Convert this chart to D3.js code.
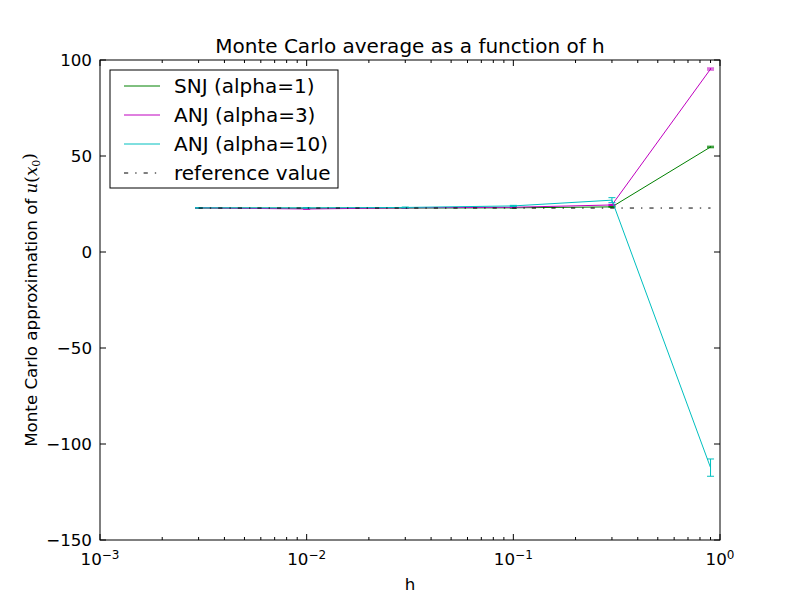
<!DOCTYPE html>
<html>
<head>
<meta charset="utf-8">
<script src="https://cdn.jsdelivr.net/npm/d3@7/dist/d3.min.js"></script>
<style>
  body { margin: 0; background: #fff; }
  svg text { font-family: "DejaVu Sans", sans-serif; }
</style>
</head>
<body>
<div id="chart"></div>
<script>
// Data
const hValues = [0.003, 0.01, 0.03, 0.1, 0.3, 0.9];
const snjMean = [22.9, 22.8, 22.9, 23.0, 23.5, 54.7];
const snjErr = [0.1, 0.1, 0.1, 0.1, 0.2, 0.4];
const anj3Mean = [23.0, 22.4, 23.0, 23.3, 24.5, 95.3];
const anj3Err = [0.1, 0.1, 0.1, 0.2, 0.3, 0.5];
const anj10Mean = [23.0, 23.0, 23.2, 24.0, 27.0, -112.3];
const anj10Err = [0.1, 0.1, 0.2, 0.3, 1.3, 4.5];
const referenceValue = 22.9;
const yTicks = [-150, -100, -50, 0, 50, 100];
const xTicks = [1e-3, 1e-2, 1e-1, 1e0];
const xTickLabels = ["-3", "-2", "-1", "0"];

const series = [
    {name: "SNJ (alpha=1)", color: "#008000", mean: snjMean, err: snjErr},
    {name: "ANJ (alpha=3)", color: "#bf00bf", mean: anj3Mean, err: anj3Err},
    {name: "ANJ (alpha=10)", color: "#00bfbf", mean: anj10Mean, err: anj10Err}
];
const dashDot = "4.2,7,1.4,7";

const W = 800, H = 600;
const m = {top: 60, right: 80, bottom: 60, left: 100};
const w = W - m.left - m.right;
const h = H - m.top - m.bottom;

const svg = d3.select("#chart").append("svg")
    .attr("width", W).attr("height", H);
const g = svg.append("g").attr("transform", `translate(${m.left},${m.top})`);

const x = d3.scaleLog().domain([1e-3, 1]).range([0, w]);
const y = d3.scaleLinear().domain([-150, 100]).range([h, 0]);

// Clip so nothing leaks past the frame
svg.append("defs").append("clipPath").attr("id", "clip")
    .append("rect").attr("width", w).attr("height", h);
const plot = g.append("g").attr("clip-path", "url(#clip)");

// Series lines + error bars
const line = d3.line().x(d => x(d[0])).y(d => y(d[1]));
series.forEach(s => {
    const pts = hValues.map((hv, i) => [hv, s.mean[i], s.err[i]]);
    plot.append("path")
        .datum(pts)
        .attr("d", line)
        .attr("fill", "none")
        .attr("stroke", s.color)
        .attr("stroke-width", 1);

    const eb = plot.append("g").attr("stroke", s.color).attr("stroke-width", 1);
    pts.forEach(p => {
        const cx = x(p[0]);
        eb.append("line").attr("x1", cx).attr("x2", cx)
            .attr("y1", y(p[1] - p[2])).attr("y2", y(p[1] + p[2]));
        [p[1] - p[2], p[1] + p[2]].forEach(v => {
            eb.append("line").attr("x1", cx - 3.5).attr("x2", cx + 3.5)
                .attr("y1", y(v)).attr("y2", y(v));
        });
    });
});

// Reference line (dash-dot), on top
plot.append("line")
    .attr("x1", x(hValues[0])).attr("x2", x(hValues[hValues.length - 1]))
    .attr("y1", y(referenceValue)).attr("y2", y(referenceValue))
    .attr("stroke", "#000").attr("stroke-width", 1)
    .attr("stroke-dasharray", dashDot);

// Ticks, inward on all four sides
const minor = [];
for (let e = -3; e < 0; e++) {
    for (let k = 2; k <= 9; k++) minor.push(k * Math.pow(10, e));
}
const ticks = g.append("g").attr("stroke", "#000").attr("stroke-width", 1);
xTicks.forEach(t => {
    ticks.append("line").attr("x1", x(t)).attr("x2", x(t)).attr("y1", h).attr("y2", h - 6);
    ticks.append("line").attr("x1", x(t)).attr("x2", x(t)).attr("y1", 0).attr("y2", 6);
});
minor.forEach(t => {
    ticks.append("line").attr("x1", x(t)).attr("x2", x(t)).attr("y1", h).attr("y2", h - 3);
    ticks.append("line").attr("x1", x(t)).attr("x2", x(t)).attr("y1", 0).attr("y2", 3);
});
yTicks.forEach(t => {
    ticks.append("line").attr("x1", 0).attr("x2", 6).attr("y1", y(t)).attr("y2", y(t));
    ticks.append("line").attr("x1", w).attr("x2", w - 6).attr("y1", y(t)).attr("y2", y(t));
});

// Frame
g.append("rect").attr("width", w).attr("height", h)
    .attr("fill", "none").attr("stroke", "#000").attr("stroke-width", 1);

// Tick labels
g.append("g").selectAll("text").data(yTicks).enter().append("text")
    .attr("x", -8).attr("y", d => y(d)).attr("dy", "0.36em")
    .attr("text-anchor", "end").style("font-size", "16.7px")
    .text(d => d < 0 ? "\u2212" + Math.abs(d) : d);

const xl = g.append("g").selectAll("text").data(xTicks).enter().append("text")
    .attr("x", d => x(d)).attr("y", h + 25)
    .attr("text-anchor", "middle").style("font-size", "16.7px");
xl.append("tspan").text("10");
xl.append("tspan").attr("dy", "-0.5em").style("font-size", "12px")
    .text((d, i) => xTickLabels[i].replace("-", "\u2212"));

// Title and axis labels
svg.append("text").attr("x", m.left + w / 2).attr("y", 53)
    .attr("text-anchor", "middle").style("font-size", "20px")
    .text("Monte Carlo average as a function of h");
svg.append("text").attr("x", m.left + w / 2).attr("y", 590)
    .attr("text-anchor", "middle").style("font-size", "16.7px").text("h");

const yl = svg.append("text")
    .attr("transform", `translate(37,${m.top + h / 2}) rotate(-90)`)
    .attr("text-anchor", "middle").style("font-size", "16.7px");
yl.append("tspan").text("Monte Carlo approximation of ");
yl.append("tspan").style("font-family", "DejaVu Serif, serif").style("font-style", "italic").text("u");
yl.append("tspan").style("font-family", "DejaVu Serif, serif").text("(");
yl.append("tspan").style("font-family", "DejaVu Serif, serif").style("font-style", "italic").text("x");
yl.append("tspan").attr("dy", "0.3em").style("font-size", "11px")
    .style("font-family", "DejaVu Serif, serif").text("0");
yl.append("tspan").attr("dy", "-0.3em").style("font-family", "DejaVu Serif, serif").text(")");

// Legend
const legendItems = series.map(s => ({name: s.name, color: s.color, dash: null}))
    .concat([{name: "reference value", color: "#000", dash: dashDot}]);
const lg = g.append("g").attr("transform", "translate(10,10)");
lg.append("rect").attr("width", 228).attr("height", 118)
    .attr("fill", "#fff").attr("stroke", "#000").attr("stroke-width", 1);
legendItems.forEach((d, i) => {
    const cy = 16 + i * 29;
    lg.append("line").attr("x1", 14).attr("x2", 50).attr("y1", cy).attr("y2", cy)
        .attr("stroke", d.color).attr("stroke-width", 1)
        .attr("stroke-dasharray", d.dash);
    lg.append("text").attr("x", 64).attr("y", cy).attr("dy", "0.36em")
        .style("font-size", "20px").text(d.name);
});
</script>
</body>
</html>
